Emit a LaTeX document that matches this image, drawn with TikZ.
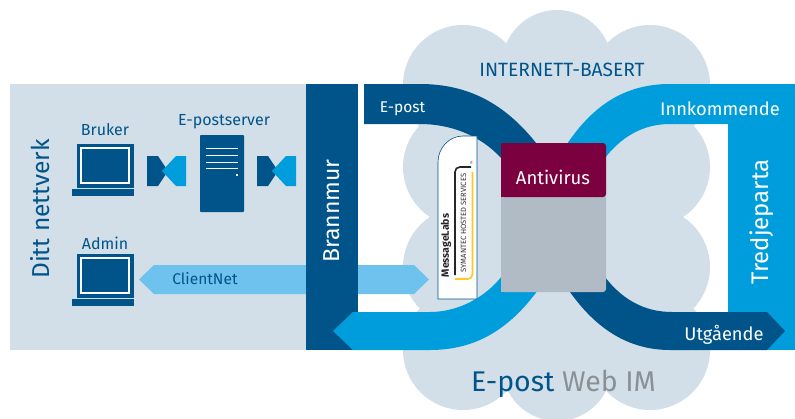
\documentclass[tikz,border=0pt]{standalone}
\usepackage{fontspec}
\setmainfont{Fira Sans}
\definecolor{navy}{HTML}{00548A}
\definecolor{sky}{HTML}{009DDC}
\definecolor{pale}{HTML}{6DC3EE}
\definecolor{mist}{HTML}{D2DFE8}
\definecolor{plum}{HTML}{7A0040}
\definecolor{slate}{HTML}{B0BBC6}
\definecolor{ash}{HTML}{8A9196}
\definecolor{gold}{HTML}{FFC91F}
\tikzset{
 lbl/.style={inner sep=0pt,outer sep=0pt,anchor=center},
 navytxt/.style={lbl,text=navy},
 whitetxt/.style={lbl,text=white},
 cloudpart/.style={fill=mist},
}
\newcommand{\laptopicon}[1]{%
  \fill[navy] (77,#1) rectangle (134,#1+43.5);
  \draw[white,line width=1.3pt] (81,#1+4) rectangle (129,#1+39);
  \fill[navy] (72,#1+45) rectangle (134,#1+51.5);
}
\newcommand{\tieicon}[1]{%
  \fill[navy] (#1,156) -- (#1+11,156) -- (#1+21,171) -- (#1+11,186) -- (#1,186) -- cycle;
  \fill[sky] (#1+39,156) -- (#1+29,156) -- (#1+15,171) -- (#1+29,186) -- (#1+39,186) -- cycle;
}
\begin{document}
\begin{tikzpicture}[x=1pt,y=-1pt]
\useasboundingbox (0,0) rectangle (795,418);
% network area
\fill[mist] (10,83.5) rectangle (315,350);
% cloud
\begin{scope}
\clip (0,0) rectangle (795,418);
\foreach \cx/\cy/\r in {463/85/60,557/65/55,650/85/60,463/167/60,650/167/60,463/267/60,650/267/60,463/350/60,650/350/60,557/366/55}
  \fill[cloudpart] (\cx,\cy) circle (\r);
\fill[cloudpart] (463,85) rectangle (650,350);
\end{scope}
% ClientNet arrow
\fill[pale] (139,279.5) -- (154,265) -- (414,265) -- (429,279.5) -- (414,294) -- (154,294) -- cycle;
\node[navytxt,font=\fontsize{15.5}{18}\selectfont] (clientnet) at (205,279) {ClientNet};
% firewall and third party
\fill[navy] (306,84) rectangle (358,350);
\fill[sky] (728,84) rectangle (795,350);
% bands
\fill[navy] (364,84) -- (420,84) .. controls (470,84) and (510,105) .. (545,155)
   -- (510,170) -- (501,158) .. controls (480,135) and (450,124) .. (420,124) -- (364,124) -- cycle;
\fill[sky] (728,84) -- (670,84) .. controls (625,84) and (590,105) .. (560,155)
   -- (600,165) .. controls (620,135) and (645,124) .. (670,124) -- (728,124) -- cycle;
\fill[sky] (333,331) -- (353,312) -- (430,312) .. controls (455,312) and (485,300) .. (505,272)
   -- (545,280) .. controls (515,325) and (480,350) .. (430,350) -- (353,350) -- cycle;
\fill[navy] (785,331) -- (767,312) -- (672,312) .. controls (645,312) and (620,300) .. (600,270)
   -- (562,280) .. controls (590,325) and (625,350) .. (670,350) -- (767,350) -- cycle;
% antivirus box
\fill[slate,rounded corners=3pt] (501,190) -- (606,190) -- (606,292) -- (501,292) -- cycle;
\fill[slate] (501,190) rectangle (520,292);
\fill[plum,rounded corners=3pt] (501,197) -- (606,197) -- (606,143) -- (501,143) -- cycle;
\fill[plum] (501,143) rectangle (520,197);
\node[whitetxt,font=\fontsize{18.5}{21}\selectfont] (antivirus) at (553,177) {Antivirus};
% MessageLabs panel
\draw[fill=white,draw=navy,line width=0.6pt] (477,136) -- (463,136) .. controls (449,136) and (438,148) .. (438,162) -- (438,299) -- (477,299) -- cycle;
\draw[black!85,line width=1.6pt] (471,167) -- (460,167) .. controls (457,167) and (455,169) .. (455,172) -- (455,275);
\draw[gold,line width=1.6pt] (472.5,172) -- (472.5,274) .. controls (472.5,277) and (470.5,279) .. (468,279) -- (455,279);
\node[lbl,rotate=90,text=black!85,font=\bfseries\fontsize{10.5}{12}\selectfont] (ml) at (446,245.5) {MessageLabs};
\node[lbl,rotate=90,text=black!80,font=\fontsize{7.6}{9}\selectfont] (sym) at (463.5,223) {SYMANTEC HOSTED SERVICES};
\node[lbl,rotate=90,text=black!70,font=\fontsize{3}{4}\selectfont] (tm) at (471.5,163) {TM};
% devices
\laptopicon{144}
\laptopicon{254}
\fill[navy,rounded corners=0.8pt] (200,135) rectangle (244,212);
\foreach \ly in {148,155,162,168} \draw[white,line width=1pt] (206,\ly) -- (238,\ly);
\fill[white] (235.5,173.5) rectangle (238,176);
\tieicon{147}
\tieicon{257}
% text
\node[navytxt,rotate=90,font=\fontsize{24.5}{28}\selectfont] (ditt) at (40,209) {Ditt nettverk};
\node[navytxt,font=\fontsize{16}{18}\selectfont] (bruker) at (105,129.5) {Bruker};
\node[navytxt,font=\fontsize{16}{18}\selectfont] (epserver) at (224,121.5) {E-postserver};
\node[navytxt,font=\fontsize{16}{18}\selectfont] (admin) at (105,243) {Admin};
\node[whitetxt,rotate=90,font=\fontsize{23}{26}\selectfont] (brann) at (332,211) {Brannmur};
\node[whitetxt,rotate=90,font=\fontsize{24}{28}\selectfont] (tredje) at (762,222) {Tredjeparta};
\node[whitetxt,font=\fontsize{15.5}{18}\selectfont] (epost) at (402.5,109) {E-post};
\node[whitetxt,font=\fontsize{18.3}{20}\selectfont] (inn) at (720,109) {Innkommende};
\node[whitetxt,font=\fontsize{18.3}{20}\selectfont] (ut) at (724,335) {Utgående};
\node[navytxt,font=\fontsize{19.2}{22}\selectfont] (inet) at (562,70) {INTERNETT-BASERT};
\node[lbl,font=\fontsize{28.5}{32}\selectfont] (webim) at (563.5,384) {\textcolor{navy}{E-post} \textcolor{ash}{Web IM}};
\end{tikzpicture}
\end{document}
